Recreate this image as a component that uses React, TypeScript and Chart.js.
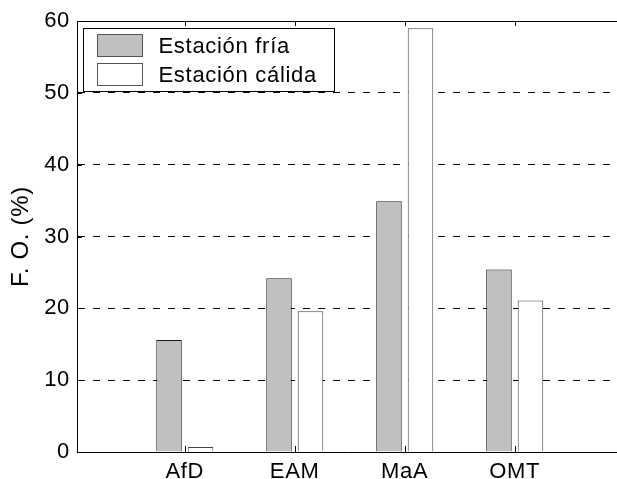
import React, { useEffect, useRef } from "react";
import { Chart, registerables } from "chart.js";

Chart.register(...registerables);

// ---- data ----
const categories = ["AfD", "EAM", "MaA", "OMT"];
const categoryPositions = [1, 2, 3, 4];
const estacionFria = [15.6, 24.2, 34.9, 25.4];
const estacionCalida = [0.7, 19.6, 59.0, 21.1];
const seriesLabels = ["Estación fría", "Estación cálida"];
const yTickValues = [0, 10, 20, 30, 40, 50, 60];
const yAxisTitle = "F. O. (%)";
const X_MIN = 0.02;
const X_MAX = 4.93;
const Y_MIN = 0;
const Y_MAX = 60;

// ---- style ----
const FAMILY = "'Liberation Sans', Arial, Helvetica, sans-serif";
const TICK_SIZE = 22;
const LEGEND_SIZE = 22;
const TITLE_SIZE = 24;
const LETTER_SPACING = "0.7px";

const setSpacing = (chart: any) => {
  try {
    (chart.ctx as any).letterSpacing = LETTER_SPACING;
  } catch (e) {}
};

const spacingPlugin = {
  id: "spacing",
  beforeLayout: setSpacing,
  beforeDraw: setSpacing,
  beforeUpdate: setSpacing,
};

const framePlugin = {
  id: "frame",
  afterDatasetsDraw(chart: any) {
    const { ctx, chartArea: a, scales } = chart;
    const x = scales.x;
    const y = scales.y;
    ctx.save();
    ctx.setLineDash([]);
    ctx.strokeStyle = "#000";
    ctx.lineWidth = 1;
    ctx.beginPath();
    const top = Math.round(a.top) + 0.5;
    ctx.moveTo(a.left, top);
    ctx.lineTo(a.right, top);
    for (const t of y.ticks) {
      const py = Math.round(y.getPixelForValue(t.value)) + 0.5;
      ctx.moveTo(a.left, py);
      ctx.lineTo(a.left + 5, py);
    }
    for (const t of x.ticks) {
      const px = Math.round(x.getPixelForValue(t.value)) + 0.5;
      ctx.moveTo(px, a.bottom);
      ctx.lineTo(px, a.bottom - 6);
      ctx.moveTo(px, a.top);
      ctx.lineTo(px, a.top + 5);
    }
    ctx.stroke();
    ctx.restore();
  },
};

const boxLegendPlugin = {
  id: "boxLegend",
  afterDraw(chart: any) {
    const { ctx, chartArea: a } = chart;
    const ds = chart.data.datasets;
    ctx.save();
    ctx.font = `${LEGEND_SIZE}px ${FAMILY}`;
    try {
      ctx.letterSpacing = LETTER_SPACING;
    } catch (e) {}
    const maxW = Math.max(...ds.map((d: any) => ctx.measureText(d.label).width));
    const bx = Math.round(a.left + 6) + 0.5;
    const by = Math.round(a.top + 7) + 0.5;
    const textOff = 75;
    const bw = Math.round(textOff + maxW + 18);
    const bh = 63;
    ctx.fillStyle = "#fff";
    ctx.fillRect(bx, by, bw, bh);
    ctx.strokeStyle = "#000";
    ctx.lineWidth = 1;
    ctx.strokeRect(bx, by, bw, bh);
    ds.forEach((d: any, i: number) => {
      const sy = by + 6 + i * 29;
      ctx.fillStyle = d.backgroundColor;
      ctx.fillRect(bx + 14, sy, 45, 22);
      ctx.strokeStyle = "#555";
      ctx.strokeRect(bx + 14, sy, 45, 22);
      ctx.fillStyle = "#000";
      ctx.textBaseline = "middle";
      ctx.textAlign = "left";
      ctx.fillText(d.label, bx + textOff, sy + 11 + 1);
    });
    ctx.restore();
  },
};

export default function App() {
  const ref = useRef<HTMLCanvasElement>(null);
  useEffect(() => {
    const toPoints = (vals: number[]) =>
      vals.map((v, i) => ({ x: categoryPositions[i], y: v }));
    const chart = new Chart(ref.current as HTMLCanvasElement, {
      type: "bar",
      data: {
        datasets: [
          {
            label: seriesLabels[0],
            data: toPoints(estacionFria) as any,
            backgroundColor: "#c0c0c0",
            borderColor: "#1a1a1a",
            borderWidth: 1,
            barPercentage: 0.81,
            categoryPercentage: 0.573,
          },
          {
            label: seriesLabels[1],
            data: toPoints(estacionCalida) as any,
            backgroundColor: "#ffffff",
            borderColor: "#444",
            borderWidth: 1,
            barPercentage: 0.81,
            categoryPercentage: 0.573,
          },
        ],
      },
      options: {
        responsive: false,
        animation: false,
        devicePixelRatio: 1,
        layout: { padding: { top: 21, right: 0, bottom: 0, left: 0 } },
        plugins: {
          legend: { display: false },
          tooltip: { enabled: false },
        },
        scales: {
          x: {
            type: "linear",
            min: X_MIN,
            max: X_MAX,
            offset: false,
            afterBuildTicks: (scale: any) => {
              scale.ticks = categoryPositions.map((v) => ({ value: v }));
            },
            afterFit: (scale: any) => {
              scale.height = 27;
            },
            grid: { display: false, drawTicks: false, offset: false },
            border: { display: true, color: "#000", width: 1 },
            ticks: {
              autoSkip: false,
              maxRotation: 0,
              padding: 7,
              color: "#000",
              font: { family: FAMILY, size: TICK_SIZE },
              callback: (v: any) => {
                const idx = categoryPositions.indexOf(Number(v));
                return idx >= 0 ? categories[idx] : "";
              },
            },
          },
          y: {
            min: Y_MIN,
            max: Y_MAX,
            afterBuildTicks: (scale: any) => {
              scale.ticks = yTickValues.map((v) => ({ value: v }));
            },
            afterFit: (scale: any) => {
              scale.width = 77;
            },
            grid: {
              display: true,
              drawTicks: false,
              color: "#000",
              lineWidth: 1,
            },
            border: { display: true, color: "#000", width: 1, dash: [7, 8] },
            ticks: {
              padding: 7,
              color: "#000",
              font: { family: FAMILY, size: TICK_SIZE },
            },
            title: {
              display: true,
              text: yAxisTitle,
              color: "#000",
              font: { family: FAMILY, size: TITLE_SIZE },
              padding: { top: 7, bottom: 0 },
            },
          },
        },
      },
      plugins: [spacingPlugin, framePlugin, boxLegendPlugin],
    } as any);
    return () => chart.destroy();
  }, []);
  return (
    <div
      style={{
        position: "absolute",
        left: 0,
        top: 0,
        width: 617,
        height: 479,
        background: "#fff",
      }}
    >
      <canvas ref={ref} width={617} height={479} style={{ display: "block" }} />
    </div>
  );
}
